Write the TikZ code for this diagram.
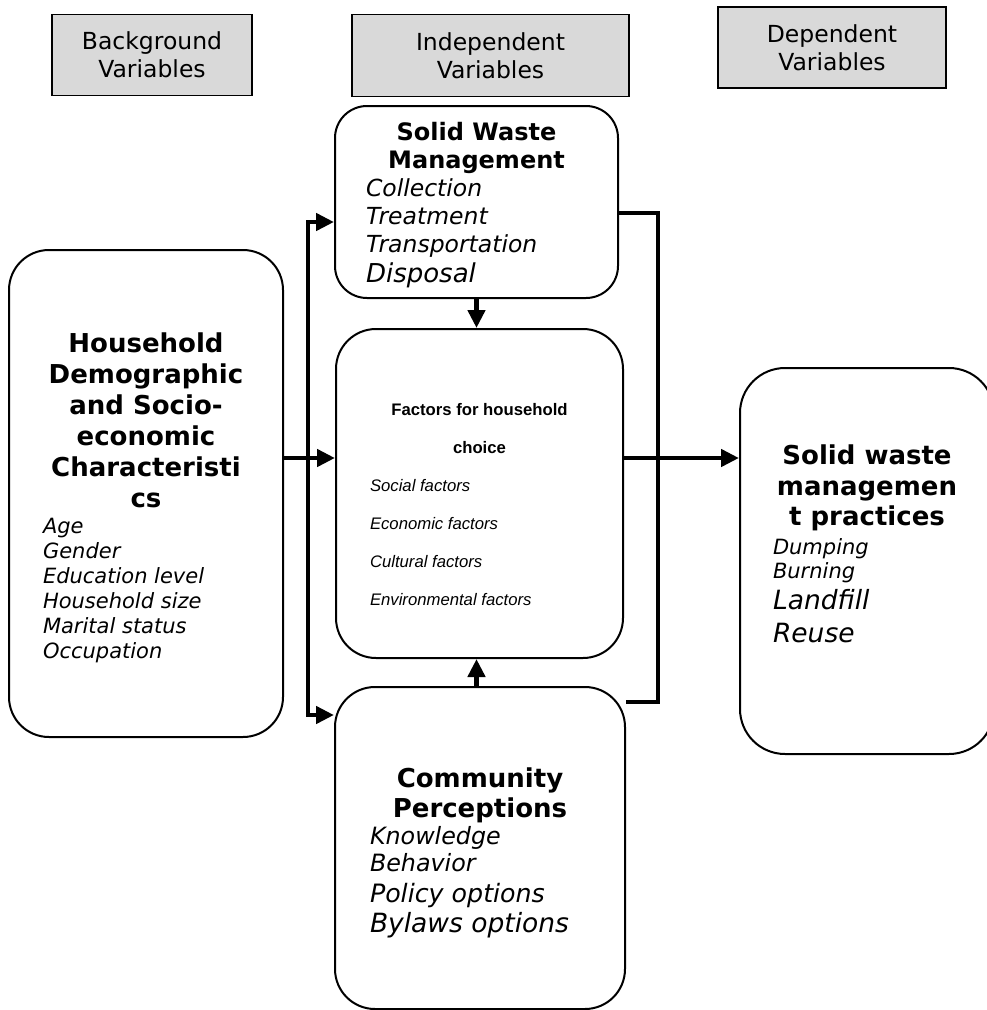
\documentclass[tikz,border=0pt]{standalone}
\usepackage{fontspec}
\setmainfont{DejaVu Sans}
\newfontfamily\arialfont{Liberation Sans}
\usetikzlibrary{arrows.meta}
\definecolor{headgray}{RGB}{217,217,217}
\newcommand{\boxtitle}[2]{\fontsize{#1}{#2}\selectfont\bfseries\spaceskip=0pt\xspaceskip=0pt}
\newcommand{\boxitem}[2]{\fontsize{#1}{#2}\selectfont\itshape\spaceskip=0pt\xspaceskip=0pt}
\tikzset{
	>={Triangle[length=18pt,width=17pt]},
	head/.style={draw, line width=1.6pt, fill=headgray, inner sep=0pt, align=center, font=\fontsize{23.5}{28}\selectfont},
	roundbox/.style={draw, line width=2pt, rounded corners=40pt, inner sep=0pt, align=left},
	link/.style={line width=4.5pt, ->},
	bar/.style={line width=4.5pt}
}
\begin{document}
\begin{tikzpicture}[x=1pt,y=-1pt]
		\useasboundingbox (0,0) rectangle (986,1010);
		
		%heading nodes
		\node (Background Head) at (152,55) [head, minimum width=200pt, minimum height=81pt]{Background\\Variables};
		\node (Independent Head) at (490.5,55.5) [head, minimum width=277pt, minimum height=82pt]{Independent\\Variables};
		\node (Dependent Head) at (832,47.5) [head, minimum width=228pt, minimum height=81pt]{Dependent\\Variables};
		
		%variable nodes
		\node (Household) at (146,493.5) [roundbox, minimum width=274pt, minimum height=487pt, text width=206pt]
		{{\centering\boxtitle{26}{31}\rule{0pt}{28pt}Household\\Demographic\\and Socio-\\economic\\Characteristi\\cs\par}
		{\boxitem{21}{26.5}Age\par}{\boxitem{21}{25}Gender\par Education level\par Household size\par Marital status\par Occupation\par}};
		\node (SWM) at (476.5,202) [roundbox, rounded corners=32pt, minimum width=283pt, minimum height=192pt, text width=221pt]
		{{\centering\boxtitle{24}{28}\rule{0pt}{24pt}Solid Waste\\Management\par}
		{\boxitem{23.5}{28}Collection\par Treatment\par Transportation\par}
		{\boxitem{26}{30}Disposal\par}};
		\node (Factors) at (479.5,493.5) [roundbox, minimum width=287pt, minimum height=329pt, text width=219pt]
		{{\centering\arialfont\boxtitle{16.7}{38}\rule{0pt}{34pt}Factors for household\\choice\par}
		{\arialfont\boxitem{16.7}{38}Social factors\par Economic factors\par Cultural factors\par Environmental factors\par}};
		\node (Community) at (480,848) [roundbox, minimum width=290pt, minimum height=322pt, text width=220pt]
		{{\centering\boxtitle{26}{30}\rule{0pt}{29pt}Community\\Perceptions\par}
		{\boxitem{23.8}{27}Knowledge\par Behavior\par}
		{\boxitem{25.3}{31}Policy options\par}
		{\boxitem{26.5}{30}Bylaws options\par}};
		\node (Practices) at (867,561) [roundbox, rounded corners=45pt, minimum width=254pt, minimum height=386pt, text width=188pt]
		{{\centering\boxtitle{26}{30.5}Solid waste\\managemen\\t practices\par}
		{\boxitem{21}{28.5}Dumping\par}{\boxitem{21}{24}Burning\par}
		{\boxitem{26.5}{31.5}Landfill\par}
		{\boxitem{26.5}{33}Reuse\rule[-34pt]{0pt}{1pt}\par}};
		
		%turning points
		\coordinate (Split Top) at (308,222);
		\coordinate (Split Bottom) at (308,715);
		\coordinate (Middle Row) at (0,458);
		\coordinate (Bracket Top) at (658,213);
		\coordinate (Bracket Bottom) at (658,702);
		
		%links
		\draw[link, <->] (Split Top -| SWM.west) -- (Split Top) -- (Split Bottom) -- (Split Bottom -| Community.west);
		\draw[link] (Household.east |- Middle Row) -- (Factors.west |- Middle Row);
		\draw[link] (SWM.south) -- (SWM.south |- Factors.north);
		\draw[link] (Community.north -| SWM.south) -- (Factors.south -| SWM.south);
		\draw[bar] (SWM.east |- Bracket Top) -- (Bracket Top) -- (Bracket Bottom) -- (Community.east |- Bracket Bottom);
		\draw[link] (Factors.east |- Middle Row) -- (Practices.west |- Middle Row);
		
\end{tikzpicture}
\end{document}
